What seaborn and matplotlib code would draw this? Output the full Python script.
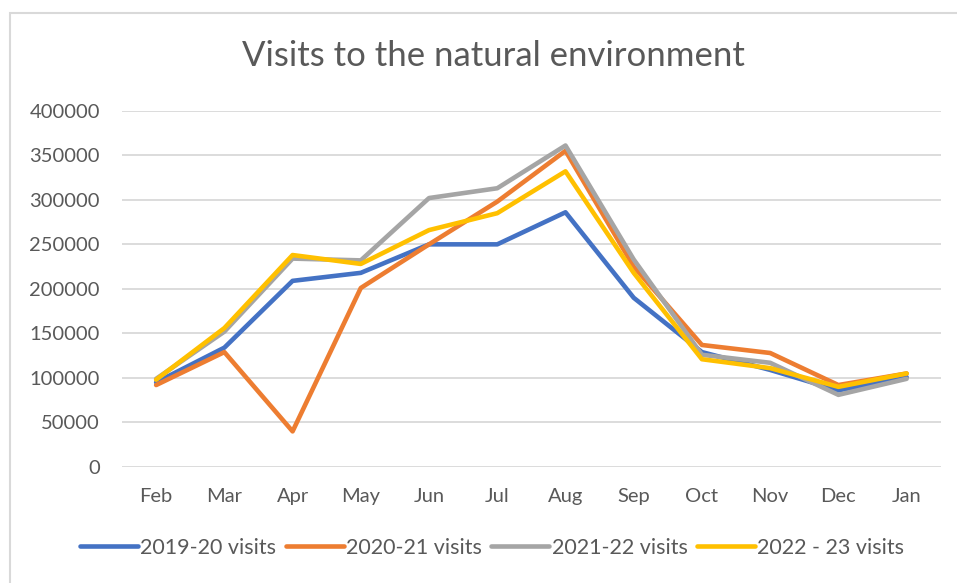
import seaborn as sns
import pandas as pd
import matplotlib.pyplot as plt
from matplotlib.patches import Rectangle

# Visits to the natural environment, by month

months = ['Feb', 'Mar', 'Apr', 'May', 'Jun', 'Jul', 'Aug', 'Sep', 'Oct', 'Nov', 'Dec', 'Jan']
visits_2019_20 = [95000, 134000, 209000, 218000, 250000, 250000, 286000, 190000, 129000, 109000, 86000, 101000]
visits_2020_21 = [92000, 129000, 40000, 201000, 250000, 298000, 355000, 225000, 137000, 128000, 92000, 105000]
visits_2021_22 = [99000, 152000, 234000, 232000, 302000, 313000, 361000, 233000, 126000, 117000, 81000, 99000]
visits_2022_23 = [98000, 156000, 238000, 228000, 266000, 285000, 332000, 218000, 121000, 111000, 90000, 105000]
series_names = ['2019-20 visits', '2020-21 visits', '2021-22 visits', '2022 - 23 visits']
colors = ['#4472C4', '#ED7D31', '#A5A5A5', '#FFC000']

frames = []
for name, vals in zip(series_names, [visits_2019_20, visits_2020_21, visits_2021_22, visits_2022_23]):
    frames.append(pd.DataFrame({'month': months, 'visits': vals, 'series': name}))
df = pd.concat(frames, ignore_index=True)

sns.set_style('white')
plt.rcParams['font.family'] = ['Lato', 'DejaVu Sans']
text_color = '#595959'

fig = plt.figure(figsize=(9.57, 5.83), dpi=100)
ax = fig.add_axes([0.1275, 0.199, 0.8555, 0.611])

sns.lineplot(data=df, x='month', y='visits', hue='series', palette=colors,
             linewidth=3.3, sort=False, ax=ax, legend=True)

ax.set_xlim(-0.5, 11.5)
ax.set_ylim(0, 400000)
ax.set_yticks(range(0, 400001, 50000))
ax.set_yticklabels([str(v) for v in range(0, 400001, 50000)])
ax.yaxis.grid(True, color='#D9D9D9', linewidth=1.3)
ax.set_axisbelow(True)
for s in ax.spines.values():
    s.set_visible(False)
ax.tick_params(axis='y', length=0, pad=16, labelsize=14.5, labelcolor=text_color)
ax.tick_params(axis='x', length=0, pad=15, labelsize=14.5, labelcolor=text_color)
ax.set_xlabel('')
ax.set_ylabel('')

handles, labels = ax.get_legend_handles_labels()
ax.get_legend().remove()
leg = fig.legend(handles, labels, loc='center', ncol=4, frameon=False,
                 bbox_to_anchor=(492 / 957, 1 - 548 / 583),
                 fontsize=15.5, handlelength=2.7, handletextpad=0.1, columnspacing=0.45)
for t in leg.get_texts():
    t.set_color(text_color)
for h in leg.get_lines():
    h.set_linewidth(3.3)

fig.text(493 / 957, 1 - 56 / 583, 'Visits to the natural environment',
         ha='center', va='center', fontsize=25, color=text_color)

# chart area border
fig.patches.append(Rectangle((10 / 957, -0.05), 1.0, 1 - 13 / 583 + 0.05,
                             transform=fig.transFigure, fill=False,
                             edgecolor='#D9D9D9', linewidth=1.5))

fig.savefig('out.png', dpi=100)
